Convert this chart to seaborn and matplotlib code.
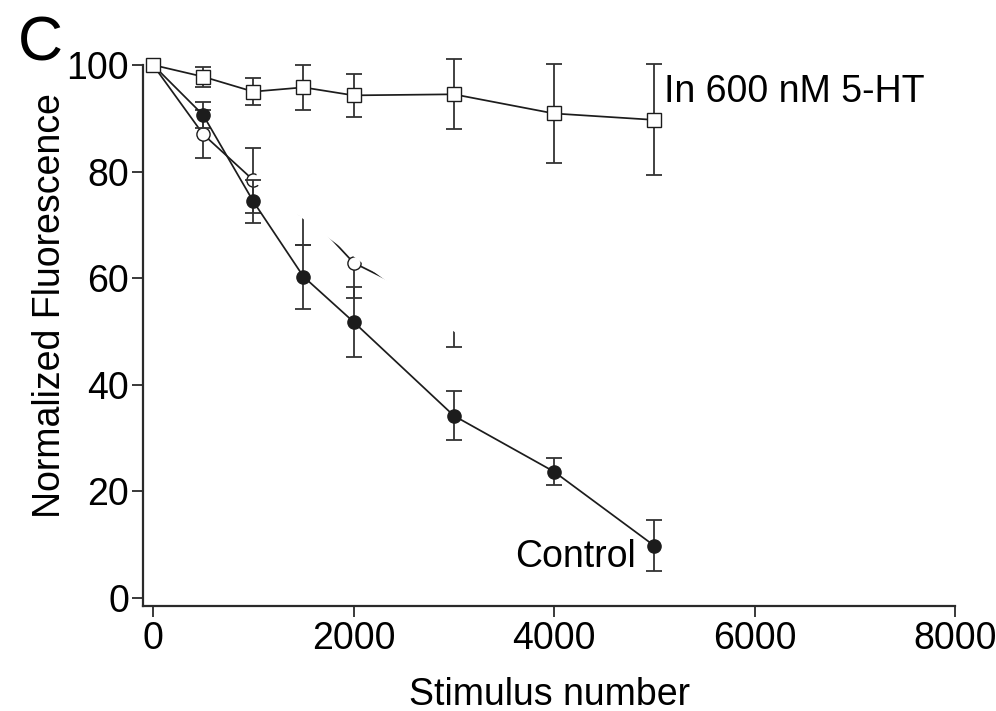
import matplotlib
matplotlib.use("Agg")
import matplotlib.pyplot as plt
from matplotlib.patches import Polygon
import seaborn as sns

# Normalized fluorescence (mean, SEM) versus stimulus number
stimulus = [0, 500, 1000, 1500, 2000, 3000, 4000, 5000]
serotonin_mean = [100, 97.8, 95.0, 95.8, 94.3, 94.5, 90.9, 89.7]
serotonin_sem = [0, 1.9, 2.6, 4.2, 4.0, 6.6, 9.3, 10.4]
control_mean = [100, 90.6, 74.4, 60.3, 51.8, 34.2, 23.7, 9.8]
control_sem = [0, 2.5, 4.1, 6.0, 6.5, 4.6, 2.5, 4.8]
open_stimulus = [0, 500, 1000, 1500, 2000, 3000]
open_mean = [100, 87.0, 78.4, 73.0, 62.9, 53.5]
open_sem = [0, 4.5, 6.1, 6.8, 6.7, 6.4]

x_ticks = [0, 2000, 4000, 6000, 8000]
y_ticks = [0, 20, 40, 60, 80, 100]

sns.set_theme(style="ticks")
plt.rcParams["font.family"] = ["Liberation Sans", "DejaVu Sans"]
plt.rcParams["text.color"] = "black"

INK = "#1c1c1c"
BAR = "#333333"

fig = plt.figure(figsize=(9.96, 7.11), dpi=100)
ax = fig.add_axes([0.1436, 0.1477, 0.8153, 0.7609])


def draw_series(x, mean, sem, marker, size, face, z):
    bx = [xi for xi, s in zip(x, sem) if s > 0]
    by = [m for m, s in zip(mean, sem) if s > 0]
    bs = [s for s in sem if s > 0]
    ax.errorbar(bx, by, yerr=bs, fmt="none", ecolor=BAR, elinewidth=1.3,
                capsize=5.5, capthick=1.3, zorder=z, clip_on=False)
    sns.lineplot(x=x, y=mean, ax=ax, color=INK, linewidth=1.25, marker=marker,
                 markersize=size, markerfacecolor=face, markeredgecolor=INK,
                 markeredgewidth=1.0, sort=False, errorbar=None, legend=False,
                 zorder=z + 0.5, clip_on=False)


draw_series(open_stimulus, open_mean, open_sem, "o", 9.5, "white", 2)

# white patch laid over the middle stretch of the open-circle trace
ax.add_patch(Polygon([(1015, 77.9), (1085, 84.1), (3200, 66.0), (3200, 47.2)],
                     closed=True, facecolor="white", edgecolor="none", zorder=3))

draw_series(stimulus, control_mean, control_sem, "o", 9.5, INK, 4)
draw_series(stimulus, serotonin_mean, serotonin_sem, "s", 10, "white", 4)

ax.set_xlim(-100, 8000)
ax.set_ylim(-1.5, 100)
ax.set_xticks(x_ticks)
ax.set_yticks(y_ticks)
ax.set_xticklabels([str(t) for t in x_ticks])
ax.set_yticklabels([str(t) for t in y_ticks])

for side in ("top", "right"):
    ax.spines[side].set_visible(False)
for side in ("left", "bottom"):
    ax.spines[side].set_linewidth(1.6)
    ax.spines[side].set_color("#2a2a2a")

ax.tick_params(axis="both", length=8, width=1.3, color="#2a2a2a",
               labelsize=27, labelcolor="black")
ax.tick_params(axis="x", pad=3)
ax.tick_params(axis="y", pad=2)

ax.set_xlabel("Stimulus number", fontsize=27, labelpad=14, color="black")
ax.set_ylabel("Normalized Fluorescence", fontsize=27, color="black")
ax.yaxis.set_label_coords(-0.0924, 0.556)

ax.text(5100, 93.0, "In 600 nM 5-HT", fontsize=27, ha="left", va="baseline",
        color="black")
ax.text(4820, 5.8, "Control", fontsize=27, ha="right", va="baseline",
        color="black")
fig.text(0.018, 0.9156, "C", fontsize=45, ha="left", va="baseline",
         color="black")

fig.savefig("out.png", dpi=100)
